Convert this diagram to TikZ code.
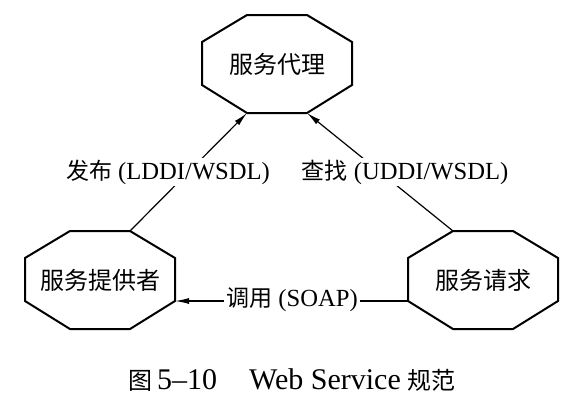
\documentclass[tikz,border=0pt]{standalone}
\usepackage{fontspec}
\setmainfont{Liberation Serif}
\newfontfamily\cjk{Noto Sans CJK SC}
\usetikzlibrary{calc,positioning,arrows.meta}

\begin{document}
\begin{tikzpicture}[x=0.5pt,y=-0.5pt]

\tikzset{octnode/.style={rectangle,outer sep=0pt,inner sep=0pt,
    minimum width=75pt,minimum height=49pt,font=\cjk\fontsize{12}{14}\selectfont},
  octline/.style={line width=1pt,line join=miter},
  edgelabel/.style={fill=white,inner sep=1pt,font=\fontsize{12.3}{14}\selectfont},
  callarrow/.style={line width=0.6pt,-{Latex[length=7pt,width=3pt]}}}

\useasboundingbox (0,0) rectangle (574,404);

% Service nodes
\node[octnode] (agent) at (277,64) {服务代理};
\node[octnode] (prov) at (100,280) {服务提供者};
\node[octnode] (req) at (483,280) {服务请求};

% Octagon outlines
\foreach \n in {agent,prov,req}
  \draw[octline] ($(\n.north west)+(45,0)$) -- ($(\n.north east)+(-45,0)$)
    -- ($(\n.north east)+(0,27)$) -- ($(\n.south east)+(0,-28)$)
    -- ($(\n.south east)+(-45,0)$) -- ($(\n.south west)+(45,0)$)
    -- ($(\n.south west)+(0,-28)$) -- ($(\n.north west)+(0,27)$) -- cycle;

% Connectors
\draw[callarrow] ($(prov.north west)+(105,0)$) -- ($(agent.south west)+(45,0)$);
\draw[callarrow] ($(req.north east)+(-105,0)$) -- ($(agent.south east)+(-45,0)$);
\draw[callarrow] ($(req.south west)+(0,-28)$) -- ($(prov.south east)+(0,-28)$);

% Edge labels
\node[edgelabel] (publish) at (168,172) {{\cjk\fontsize{11.5}{14}\selectfont 发布} (LDDI/WSDL)};
\node[edgelabel] (find) at (405,172) {{\cjk\fontsize{11.5}{14}\selectfont 查找} (UDDI/WSDL)};
\node[edgelabel] (invoke) at (292,300) {{\cjk\fontsize{11.5}{14}\selectfont 调用} (SOAP)};

% Caption
\node[font=\fontsize{15}{17}\selectfont] (caption) at (292,380)
  {{\cjk\fontsize{12}{14}\selectfont 图}\hspace{2.5pt}5--10\hspace{16pt}Web Service\hspace{3.5pt}{\cjk\fontsize{12}{14}\selectfont 规范}};
\end{tikzpicture}
\end{document}
